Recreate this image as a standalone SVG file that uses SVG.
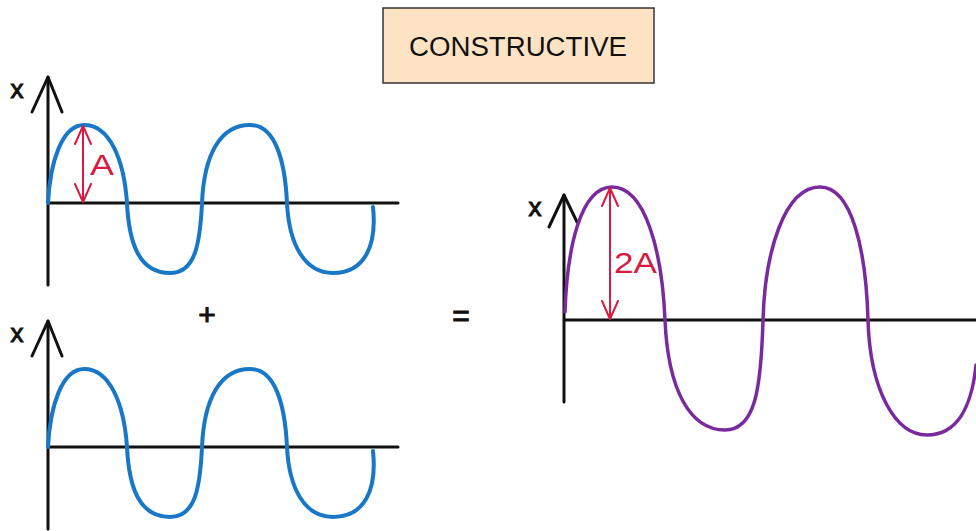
<svg xmlns="http://www.w3.org/2000/svg" width="976" height="531" viewBox="0 0 976 531">
<style>
.axis{fill:none;stroke:#111;stroke-width:3;stroke-linecap:round;stroke-linejoin:round}
.blue{fill:none;stroke:#1877c6;stroke-width:4;stroke-linecap:round}
.purple{fill:none;stroke:#7a2a9e;stroke-width:3.5;stroke-linecap:round}
.amp{fill:none;stroke:#d81b40;stroke-width:2}
.lbl{font-family:"Liberation Sans",Arial,sans-serif;fill:#111}
.sym{font-family:"Liberation Sans",Arial,sans-serif;fill:#111;stroke:#111;stroke-width:1}
.red{font-family:"Liberation Sans",Arial,sans-serif;fill:#d81b40}
</style>
<defs>
<marker id="vhead" markerUnits="userSpaceOnUse" viewBox="0 -10 20 20" refX="19" refY="0" markerWidth="20" markerHeight="20" orient="auto-start-reverse">
<path d="M1,-8 L19,0 L1,8" fill="none" stroke="#d81b40" stroke-width="2" stroke-linecap="round" stroke-linejoin="round"/>
</marker>
<path id="bluewave" d="M48,203 C50,162 62,125 84,125 C110,125 124,160 127,203 C129,245 140,273 170,273 C195,273 200,245 202,203 C204,155 220,125 250,125 C275,125 285,160 287,203 C289,245 305,273 333,273 C365,273 377,245 373,207"/>
<g id="smallaxes">
<path d="M48,77 L48,285 M48,203 L398,203"/>
<path d="M32,112 L48,77 L62,112"/>
</g>
</defs>

<g id="title">
<rect x="383" y="8" width="271" height="75" fill="#fde3c4" stroke="#333" stroke-width="1.5"/>
<text x="518" y="56" class="lbl" font-size="27" text-anchor="middle" textLength="218" lengthAdjust="spacingAndGlyphs">CONSTRUCTIVE</text>
</g>

<g id="wave-top">
<use href="#smallaxes" class="axis"/>
<text x="17" y="98" class="sym" font-size="26" text-anchor="middle">x</text>
<use href="#bluewave" class="blue"/>
</g>

<g id="wave-bottom">
<g transform="translate(0,244)">
<use href="#smallaxes" class="axis"/>
<use href="#bluewave" class="blue"/>
</g>
<text x="17" y="342" class="sym" font-size="26" text-anchor="middle">x</text>
</g>

<g id="wave-result">
<path class="axis" d="M564,195 L564,402 M564,320 L976,320"/>
<path class="axis" d="M549,227 L564,195 L577,222"/>
<text x="535" y="216" class="sym" font-size="26" text-anchor="middle">x</text>
<path class="purple" d="M565,312 C567,250 580,187 612,187 C645,187 662,250 665,320 C668,390 690,430 725,430 C755,430 761,390 763,320 C765,250 785,187 820,187 C852,187 866,250 868,320 C870,390 895,435 927,435 C958,435 972,405 976,365"/>
</g>

<g id="operators">
<text x="207" y="325" class="sym" font-size="30" text-anchor="middle">+</text>
<text x="461" y="326" class="sym" font-size="30" text-anchor="middle">=</text>
</g>

<g id="connectors">
<line class="amp" x1="83" y1="126" x2="83" y2="202" marker-start="url(#vhead)" marker-end="url(#vhead)"/>
<text x="90" y="175" class="red" font-size="30" textLength="24" lengthAdjust="spacingAndGlyphs">A</text>
<line class="amp" x1="610" y1="188" x2="610" y2="319" marker-start="url(#vhead)" marker-end="url(#vhead)"/>
<text x="614" y="273" class="red" font-size="29" textLength="43" lengthAdjust="spacingAndGlyphs">2A</text>
</g>
</svg>
